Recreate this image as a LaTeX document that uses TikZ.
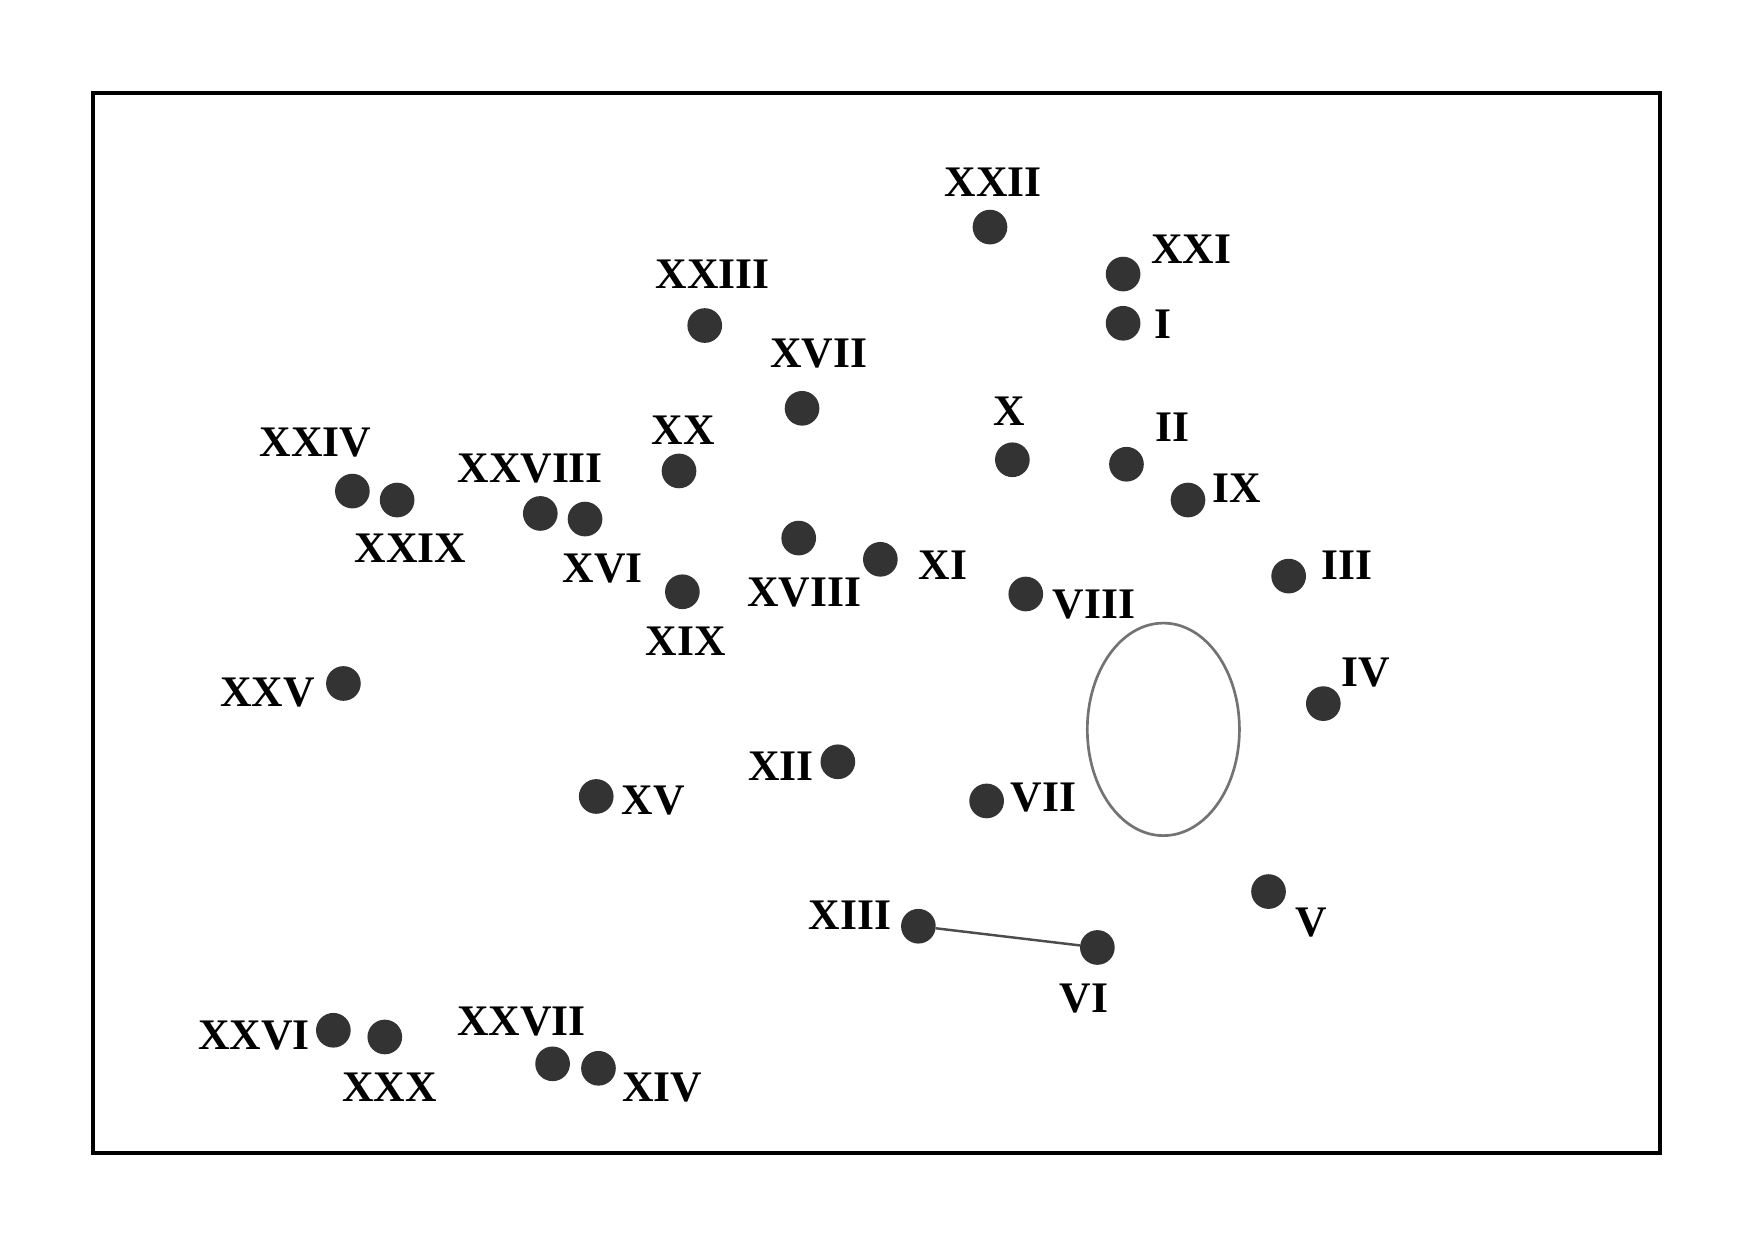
\documentclass[tikz,border=0pt]{standalone}
\usepackage{fontspec}
\setmainfont{Liberation Serif}
\begin{document}
\begin{tikzpicture}[x=1pt,y=-1pt,
  dot/.style={circle,fill=black!80,draw=none,minimum size=31pt,inner sep=0pt},
  lab/.style={font=\fontsize{39}{42}\selectfont\bfseries,inner sep=0pt,anchor=center},
  frame/.style={draw=black,line width=3.8pt}]
\useasboundingbox (0,0) rectangle (1568,1109);
\fill[white] (0,0) rectangle (1568,1109);
\draw[frame] (83,83) rectangle (1484,1031);
\draw[black!55,line width=2.4pt] (1040,652) ellipse [x radius=68,y radius=95];
% dots
\foreach \n/\x/\y in {XXII/885/203, XXI/1004/245, I/1004/289, XXIII/630/291, XVII/717/365,
  X/905/411, II/1007/415, IX/1062/447, XX/607/421, XXIV/315/439, XXIX/355/447,
  XXVIII/483/459, XVI/523/464, XVIII/714/481, XI/787/500, XIX/610/529, VIII/917/531,
  III/1152/515, XXV/307/611, IV/1183/629, XII/749/681, XV/533/712, VII/882/716,
  V/1134/797, XIII/821/828, VI/981/847, XXVI/298/921, XXX/344/927, XXVII/494/951, XIV/535/955}
  {\node[dot] (d\n) at (\x,\y) {};}
\draw[black!70,line width=2.2pt] (dXIII) -- (dVI);
% labels
\foreach \n/\x/\y in {XXII/888/163, XXI/1065/223, I/1040/290, XXIII/637/245, XVII/732/316,
  X/902/368, II/1048/382, IX/1106/436, XX/611/385, XXIV/282/396, XXIX/367/490,
  XXVIII/474/419, XVI/539/508, XVIII/719/530, XI/843/505, XIX/613/573, VIII/978/540,
  III/1204/505, XXV/239/619, IV/1221/601, XII/698/685, XV/584/716, VII/933/713,
  V/1172/825, XIII/760/818, VI/969/893, XXVI/227/926, XXX/348/972, XXVII/466/913, XIV/592/972}
  {\node[lab] (l\n) at (\x,\y) {\n};}
\end{tikzpicture}
\end{document}
